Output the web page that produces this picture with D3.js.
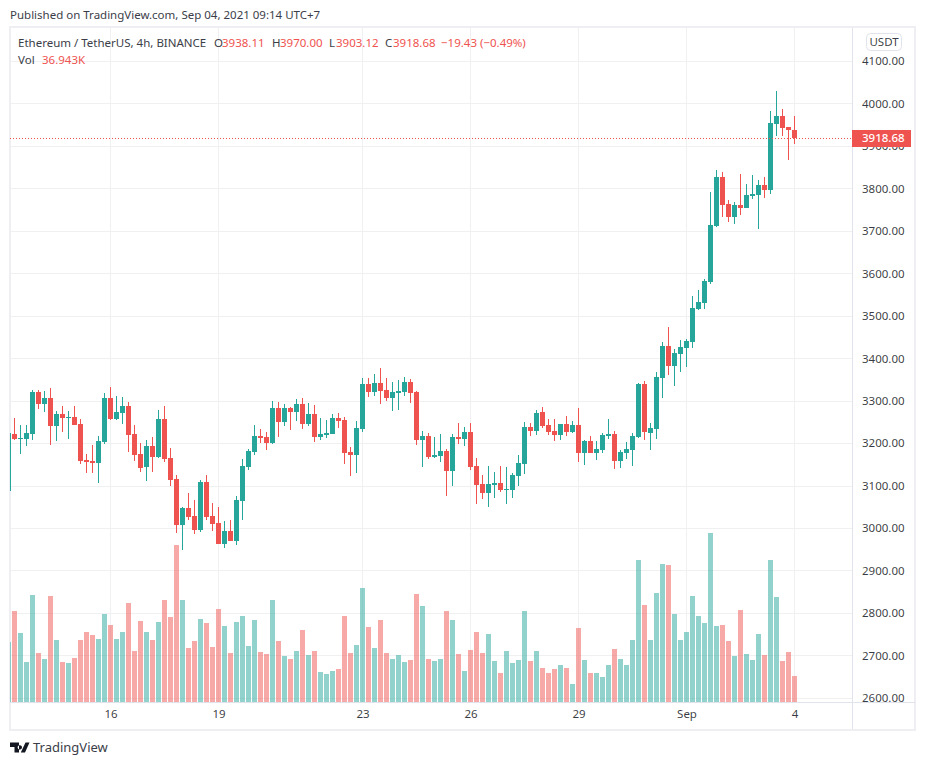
<!DOCTYPE html>
<html><head><meta charset="utf-8">
<script src="https://cdn.jsdelivr.net/npm/d3@7/dist/d3.min.js"></script>
<style>html,body{margin:0;padding:0;background:#fff}svg{display:block}
text{font-family:"Noto Sans","Open Sans",sans-serif}</style></head>
<body><svg id="c" width="926" height="765"></svg>
<script>
// index -1 is the candle clipped by the left edge of the pane
const opens=[3088,3222.3,3210.5,3210.5,3222.3,3321.2,3292.9,3307,3241.1,3269.4,3260,3262.3,3245.8,3161,3158.7,3154,3203.4,3307,3257.6,3271.7,3288.2,3222.3,3175.2,3144.6,3194,3168.1,3257.6,3165.8,3116.3,3008,3048,3029.2,2996.2,3109.2,3029.2,3012.7,2963.2,2993.9,2970.3,3064.5,3144.6,3179.9,3217.6,3215.2,3201.1,3283.5,3250.5,3283.5,3274.1,3292.9,3245.8,3269.4,3215.2,3220,3222.3,3260,3255.3,3179.9,3172.8,3234,3340,3321.2,3342.4,3325.9,3307,3318.8,3321.2,3344.7,3321.2,3208.2,3217.6,3168.1,3170.5,3182.2,3135.2,3215.2,3210.5,3227,3147,3104.5,3083.3,3102.2,3106.9,3090.4,3090.4,3123.4,3151.6,3238.6,3229.2,3273.9,3243.3,3229.2,3219.7,3245.6,3226.8,3243.3,3177.3,3205.6,3177.3,3184.4,3217.4,3222.1,3158.5,3177.3,3184.4,3215,3339.8,3224.4,3233.9,3354,3429.3,3382.2,3410.5,3424.6,3438.7,3515.7,3529.8,3579.3,3711.2,3826.6,3763,3732.4,3760.6,3753.6,3781.8,3784.2,3807.7,3795.9,3951.4,3970.2,3944.3,3938.11];
const highs=[3240,3260,3243.5,3243.5,3325.9,3325.9,3323.5,3330.6,3276.4,3288.2,3276.4,3288.2,3257.6,3175.2,3196.4,3217.6,3318.8,3333,3311.8,3309.4,3297.6,3243.5,3201.1,3208.2,3215.2,3278.8,3288.2,3189.3,3125.7,3050.4,3083.3,3066.9,3114,3125.7,3059.8,3050.4,3017.4,3019.8,3076.3,3163.4,3186.9,3243.5,3234,3227,3300,3297.6,3292.9,3285.9,3304.7,3307,3295.3,3290.6,3260,3255.3,3269.4,3271.7,3262.3,3191.7,3252.9,3354.2,3354.2,3363.6,3377.7,3354.2,3344.7,3349.5,3356.5,3351.8,3323.5,3229.4,3224.6,3215.2,3222.3,3187,3222.3,3248.2,3238.8,3248.2,3165.8,3125.7,3146.9,3132.8,3146.9,3144.6,3130.4,3172.8,3250.5,3248,3278.6,3285.7,3257.4,3257.4,3245.6,3264.5,3252.7,3283.3,3208,3217.4,3205.6,3224.4,3257.4,3229.2,3184.4,3203.2,3224.4,3342.2,3346.9,3248,3368.1,3438.7,3474.1,3422.3,3443.5,3445.8,3546.3,3560.5,3586.4,3791.2,3843,3838.3,3772.4,3767.7,3833.6,3810,3831.3,3819.5,3826.6,3982,4029.1,3986.7,3944.3,3970];
const lows=[3060,3208,3175.2,3194,3208,3281.2,3274,3196.4,3205.8,3227,3210.5,3243.5,3151.6,3130.4,3130.4,3106.9,3198.7,3255.3,3255.3,3245.8,3179.9,3158.7,3132.8,3111.6,3132.8,3165.8,3156.3,3099.8,2989.1,2948,3019.8,2986.8,2991.5,3019.8,2993.9,2963.2,2953.8,2970.3,2960.9,3019.8,3137.5,3172.8,3201.1,3184.6,3198.7,3215.2,3241.1,3231.7,3252.9,3234,3241.1,3203.4,3208,3212.9,3222.3,3236.4,3151.6,3123.4,3130.4,3227,3309.4,3311.8,3293,3300,3276.4,3278.8,3311.8,3295.3,3196.4,3144.6,3163.4,3165.8,3156.3,3076.3,3099.8,3198.7,3194,3137.5,3057.4,3069.2,3050.4,3071.6,3085.7,3057.4,3071.6,3099.8,3128.1,3217.4,3219.7,3236.2,3219.7,3205.6,3208,3217.4,3224.4,3156.1,3149.1,3177.3,3160.9,3177.3,3210.3,3139.7,3142,3163.2,3146.7,3212.7,3208,3184.4,3210.3,3306.9,3361,3335,3368.1,3379.9,3424.6,3513.3,3515.7,3574.6,3708.8,3732.4,3720.6,3715.9,3737.1,3753.6,3774.8,3704.1,3777.1,3786.5,3923.1,3923.1,3866.6,3903.12];
const closes=[3224,3210.5,3212.9,3224.6,3321.2,3292.9,3307,3241.1,3269.4,3260,3262.3,3243.5,3158.7,3156.3,3154,3205.8,3307,3257.6,3274,3288.2,3219.9,3172.8,3142.2,3194,3168.1,3257.6,3163.4,3114,3008,3048,3026.8,2996.2,3109.2,3026.8,3010.3,2963.2,2993.9,2970.3,3066.9,3146.9,3182.2,3217.6,3212.9,3201.1,3283.5,3250.5,3283.5,3274.1,3292.9,3245.8,3269.4,3215.2,3222.3,3224.6,3260,3252.9,3177.5,3172.8,3236.4,3340,3321.2,3342.4,3323.5,3307,3321.2,3323.5,3344.7,3318.8,3208.2,3217.6,3168.1,3172.8,3182.2,3135.2,3215.2,3210.5,3227,3144.6,3102.2,3083.3,3104.5,3106.9,3090.4,3092.8,3125.7,3154,3238.6,3229.2,3271.5,3240.9,3226.8,3219.7,3245.6,3226.8,3243.3,3177.3,3205.6,3177.3,3186.8,3219.7,3222.1,3158.5,3179.7,3186.8,3217.4,3339.8,3226.8,3236.2,3356.3,3429.3,3382.2,3412.8,3427,3441.1,3518,3532.2,3581.6,3713.5,3826.6,3760.6,3732.4,3760.6,3753.6,3784.2,3786.5,3807.7,3795.9,3953.7,3970.2,3942,3937.3,3918.68];
const volumes=[85.2,129.3,98,56.8,152,69.6,61.1,150.6,88.1,56.8,55.4,62.5,88.1,99.5,95.2,89.5,125,109.4,89.5,99.5,140.7,72.5,115.1,99.5,88.1,113.7,144.9,120.8,223.1,144.9,76.7,86.7,117.9,112.2,78.1,132.1,108,69.6,113.7,122.2,79.6,116.5,71,68.2,144.9,86.7,65.4,61.1,72.5,102.3,66.8,72.5,42.6,39.8,44,46.9,122.2,69.6,81,162,106.6,76.7,116.5,69.6,61.1,66.8,56.8,59.7,153.4,136.4,61.1,58.3,61.1,129.3,116.5,68.2,44,73.9,99.5,69.6,96.6,58.3,41.2,72.5,55.4,59.7,129.3,58.3,72.5,48.3,41.2,46.9,52.6,48.3,25.6,105.1,59.7,41.2,41.2,35.5,52.6,75.3,61.1,52.6,88.1,201.8,137.8,88.1,154.9,196.1,194.7,125,88.1,99.5,150.6,122.2,112.2,240.1,108,109.4,86.7,65.4,130.7,68.2,59.7,96.6,66.8,201.8,149.2,58.3,71,36.943];
const priceTicks=[2600,2700,2800,2900,3000,3100,3200,3300,3400,3500,3600,3700,3800,3900,4000,4100];
const timeTickIndex=[16,34,58,76,94,112,130];
const timeTickLabels=["16","19","23","26","29","Sep","4"];
const lastPrice=3918.68;

const UP="#26a69a",DOWN="#ef5350",GRID="#f0f0f3",BORDER="#e0e3eb",OUTER="#eeeef3",TXT="#131722";
const FS=11.5;
const svg=d3.select("#c");
const L=10,R=852,T=28,B=702;
const x=d3.scaleLinear().domain([-1,130]).range([8.5,794.5]);
const y=d3.scaleLinear().domain([2600,4100]).range([697.9,60.8]);
const v=d3.scaleLinear().domain([0,240.1]).range([702,533]);
const rows=opens.map((o,k)=>({i:k-1,o,h:highs[k],l:lows[k],c:closes[k],vol:volumes[k]}));
const col=d=>d.c>=d.o?UP:DOWN;

svg.append("defs").append("clipPath").attr("id","pane").append("rect")
  .attr("x",L).attr("y",T).attr("width",R-L).attr("height",B-T);

// frame
svg.append("rect").attr("x",10).attr("y",27).attr("width",905).attr("height",703)
  .attr("fill","#fff").attr("stroke",OUTER).attr("stroke-width",2).attr("shape-rendering","crispEdges");

// grid
const grid=svg.append("g").attr("shape-rendering","crispEdges");
grid.selectAll(".gh").data(priceTicks).join("line").attr("x1",L).attr("x2",R)
  .attr("y1",d=>Math.round(y(d))+.5).attr("y2",d=>Math.round(y(d))+.5).attr("stroke",GRID);
grid.selectAll(".gv").data(timeTickIndex).join("line").attr("y1",T).attr("y2",B)
  .attr("x1",d=>x(d)).attr("x2",d=>x(d)).attr("stroke",GRID);

const pane=svg.append("g").attr("clip-path","url(#pane)").attr("shape-rendering","crispEdges");
// volume
pane.selectAll(".vol").data(rows).join("rect")
  .attr("x",d=>x(d.i)-2.5).attr("width",5)
  .attr("y",d=>Math.round(v(d.vol))).attr("height",d=>702-Math.round(v(d.vol)))
  .attr("fill",col).attr("fill-opacity",.5);
// wicks
pane.selectAll(".wick").data(rows).join("rect")
  .attr("x",d=>x(d.i)-.5).attr("width",1)
  .attr("y",d=>Math.round(y(d.h))).attr("height",d=>Math.max(1,Math.round(y(d.l))-Math.round(y(d.h))))
  .attr("fill",col);
// bodies
pane.selectAll(".body").data(rows).join("rect")
  .attr("x",d=>x(d.i)-2.5).attr("width",5)
  .attr("y",d=>Math.round(y(Math.max(d.o,d.c))))
  .attr("height",d=>Math.max(1,Math.round(y(Math.min(d.o,d.c)))-Math.round(y(Math.max(d.o,d.c)))))
  .attr("fill",col);

// separators
svg.append("line").attr("x1",L).attr("x2",915).attr("y1",702.5).attr("y2",702.5).attr("stroke",BORDER).attr("shape-rendering","crispEdges");
svg.append("line").attr("x1",852.5).attr("x2",852.5).attr("y1",T).attr("y2",729).attr("stroke",BORDER).attr("shape-rendering","crispEdges");

// last-price line
svg.append("line").attr("x1",L).attr("x2",R).attr("y1",Math.round(y(lastPrice))+.5).attr("y2",Math.round(y(lastPrice))+.5)
  .attr("stroke",DOWN).attr("stroke-dasharray","1 2").attr("shape-rendering","crispEdges");

// price axis
const ya=d3.axisRight(y).tickValues(priceTicks).tickSize(0).tickPadding(0).tickFormat(d3.format(".2f"));
const gy=svg.append("g").attr("transform","translate(862,0)").call(ya);
gy.select(".domain").remove();
gy.selectAll("text").attr("font-size",FS).attr("fill",TXT).attr("fill-opacity",.85).attr("x",0).attr("dy",".34em").style("font-family",'"Noto Sans"');

// time axis
const xa=d3.axisBottom(x).tickValues(timeTickIndex).tickSize(0).tickPadding(0).tickFormat((d,k)=>timeTickLabels[k]);
const gx=svg.append("g").attr("transform","translate(0,702)").call(xa);
gx.select(".domain").remove();
gx.selectAll("text").attr("font-size",FS).attr("fill",TXT).attr("fill-opacity",.85).attr("y",8).attr("dy",".71em").style("font-family",'"Noto Sans"');

// last price tag
const ly=y(lastPrice);
svg.append("rect").attr("x",852).attr("y",Math.round(ly)-8).attr("width",59).attr("height",17).attr("fill",DOWN).attr("shape-rendering","crispEdges");
svg.append("text").attr("x",862).attr("y",ly+.34*12).attr("font-size",FS).attr("font-weight",500).attr("fill","#fff").text(lastPrice.toFixed(2));

// USDT button
svg.append("rect").attr("x",866.5).attr("y",33.5).attr("width",35).attr("height",17).attr("rx",4).attr("fill","#fff").attr("stroke",BORDER);
svg.append("text").attr("x",884).attr("y",46).attr("text-anchor","middle").attr("font-size",FS).attr("fill",TXT).attr("fill-opacity",.85).text("USDT");

// texts
const t=(s,px,py,fill,size)=>svg.append("text").attr("x",px).attr("y",py).attr("font-size",size||FS).attr("fill",fill).text(s);
const GREY="#3b3e48";
t("Published on TradingView.com, Sep 04, 2021 09:14 UTC+7",10,19,GREY);
t("Ethereum / TetherUS, 4h, BINANCE",18,46.5,GREY);
[["O",214,"3938.11",222],["H",272,"3970.00",280],["L",329,"3903.12",336],["C",385,"3918.68",393]].forEach(a=>{t(a[0],a[1],46.5,GREY);t(a[2],a[3],46.5,DOWN);});
t("−19.43 (−0.49%)",441,46.5,DOWN);
t("Vol",18,63.5,GREY);
t("36.943K",42,63.5,DOWN);

// logo
svg.append("path").attr("d","M10 742.5h9v10h-4.5v-5.5H10zM19.8 745.2a2.2 2.2 0 1 0 0.01 0zM25.5 742.5h4l-4.5 10h-4.2z").attr("fill",TXT);
t("TradingView",33,752,"#3b3e48",13);
</script></body></html>
